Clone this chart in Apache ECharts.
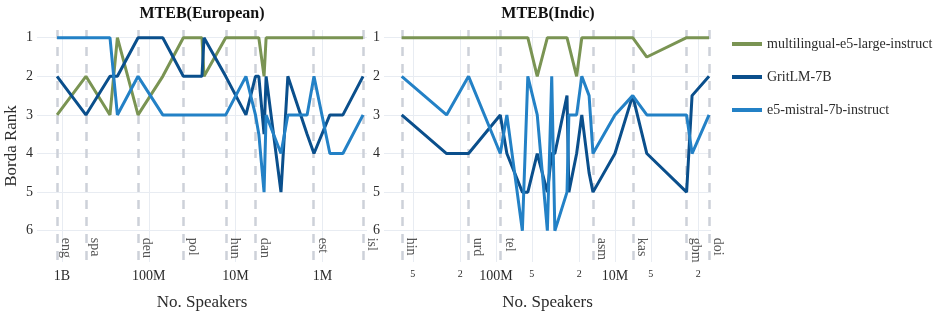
<!DOCTYPE html>
<html><head><meta charset="utf-8">
<script src="https://cdn.jsdelivr.net/npm/echarts@6/dist/echarts.min.js"></script>
<style>html,body{margin:0;padding:0;background:#fff}#c{width:946px;height:316px}</style>
</head><body><div id="c"></div>
<script>
const models = ['multilingual-e5-large-instruct', 'GritLM-7B', 'e5-mistral-7b-instruct'];
const colors = ['#7a9453', '#0a4f8c', '#2381c6'];

// MTEB(European) — languages (only some labelled), speakers in millions, Borda ranks
const euLangs      = ['eng','spa','','','deu','','pol','','','hun','','dan','','','','','','','est','','','isl'];
const euSpeakersM  = [1140, 530, 280, 230, 133, 69, 40, 24.4, 23.1, 13, 7.6, 5.9, 5.4, 4.7, 4.45, 3.0, 2.5, 1.5, 1.25, 0.82, 0.58, 0.34];
const euE5Large    = [3, 2, 3, 1, 3, 2, 1, 1, 2, 1, 1, 1, 1, 2, 1, 1, 1, 1, 1, 1, 1, 1];
const euGritLM     = [2, 3, 2, 2, 1, 1, 2, 2, 1, 2, 3, 2, 2, 3.5, 2, 5, 2, 3.5, 4, 3, 3, 2];
const euE5Mistral  = [1, 1, 1, 3, 2, 3, 3, 3, 3, 3, 2, 3, 3.5, 5, 3, 4, 3, 3, 2, 4, 4, 3];

// MTEB(Indic)
const inLangs      = ['hin','','urd','tel','','','','','','','','','','','','','asm','','kas','','gbm','','doi'];
const inSpeakersM  = [620, 260, 170, 92, 81, 60, 54, 45, 37, 34, 32, 25.3, 24.4, 21, 19, 16.5, 15.3, 10, 7.1, 5.4, 2.5, 2.25, 1.62];
const inE5Large    = [1, 1, 1, 1, 1, 1, 1, 2, 1, 1, 1, 1, 1, 2, 1, 1, 1, 1, 1, 1.5, 1, 1, 1];
const inGritLM     = [3, 4, 4, 3, 4, 5, 5, 4, 5, 4, 4, 2.5, 5, 4, 3, 4.5, 5, 4, 2.5, 4, 5, 2.5, 2];
const inE5Mistral  = [2, 3, 2, 4, 3, 6, 2, 3, 6, 2, 6, 5, 3, 3, 2, 2.5, 4, 3, 2.5, 3, 3, 4, 3];

// axis ticks
const euTicks = [1e9, 1e8, 1e7, 1e6];
const euTickLabels = ['1B', '100M', '10M', '1M'];
const inTicks = [5e8, 2e8, 1e8, 5e7, 2e7, 1e7, 5e6, 2e6];
const inTickLabels = ['5', '2', '100M', '5', '2', '10M', '5', '2'];
const rankTicks = [1, 2, 3, 4, 5, 6];

const FONT = 'Liberation Serif';
const TXT = '#2b2b2b';
const lg = v => Math.log10(v);

function xAxisCfg(grid, ticks, labels, min, max) {
  const vals = ticks.map(lg);
  return {
    gridIndex: grid, type: 'value', inverse: true, min: min, max: max,
    name: 'No. Speakers', nameLocation: 'middle', nameGap: 32,
    nameTextStyle: { fontFamily: FONT, fontSize: 17, color: TXT },
    axisLine: { show: false },
    axisTick: { show: false, customValues: vals },
    splitLine: { show: true, lineStyle: { color: '#e8ecf2', width: 1 } },
    axisLabel: {
      customValues: vals, margin: 7, fontFamily: FONT, fontSize: 14, color: TXT,
      formatter: v => {
        let i = 0, best = 1e9;
        vals.forEach((t, k) => { if (Math.abs(t - v) < best) { best = Math.abs(t - v); i = k; } });
        const s = labels[i];
        return s.length === 1 ? '{s|' + s + '}' : s;
      },
      rich: { s: { fontFamily: FONT, fontSize: 10, color: TXT } }
    }
  };
}
function yAxisCfg(grid, withName) {
  return {
    gridIndex: grid, type: 'value', inverse: true, min: 0.8, max: 6.81,
    name: withName ? 'Borda Rank' : '', nameLocation: 'middle', nameGap: 17,
    nameTextStyle: { fontFamily: FONT, fontSize: 17, color: TXT },
    axisLine: { show: false },
    axisTick: { show: false, customValues: rankTicks },
    splitLine: { show: true, lineStyle: { color: '#e8ecf2', width: 1 } },
    axisLabel: { customValues: rankTicks, margin: 4, fontFamily: FONT, fontSize: 14, color: TXT }
  };
}
function lineSeries(name, color, xs, ys, grid) {
  return {
    type: 'line', name: name, xAxisIndex: grid, yAxisIndex: grid,
    data: xs.map((s, i) => [lg(s * 1e6), ys[i]]),
    symbol: 'none', lineStyle: { color: color, width: 3 }, itemStyle: { color: color },
    z: 3, animation: false
  };
}
function langSeries(langs, speakers, grid) {
  const pts = [];
  langs.forEach((n, i) => { if (n) pts.push({ name: n, value: [lg(speakers[i] * 1e6), 6.18] }); });
  return {
    type: 'scatter', xAxisIndex: grid, yAxisIndex: grid, silent: true, z: 1,
    symbolSize: 0, data: pts, animation: false,
    label: {
      show: true, formatter: p => p.name, rotate: -90, position: 'inside',
      align: 'left', verticalAlign: 'bottom', padding: [0, 0, 2, 0],
      fontFamily: FONT, fontSize: 14, color: TXT
    },
    markLine: {
      silent: true, symbol: ['none', 'none'], z: 1, animation: false,
      label: { show: false },
      lineStyle: { type: [9, 8], color: '#cdd1d9', width: 2.5 },
      data: pts.map(p => ({ xAxis: p.value[0] }))
    }
  };
}

const chart = echarts.init(document.getElementById('c'), null, { renderer: 'canvas' });
chart.setOption({
  animation: false,
  backgroundColor: '#fff',
  grid: [
    { left: 37, top: 30, width: 330, height: 238 },
    { left: 384, top: 30, width: 327, height: 238 }
  ],
  graphic: [
    { type: 'text', x: 202, y: 14, style: { text: 'MTEB(European)', fontFamily: FONT, fontWeight: 'bold', fontSize: 16, fill: '#111', textAlign: 'center', textVerticalAlign: 'middle' } },
    { type: 'text', x: 548, y: 14, style: { text: 'MTEB(Indic)', fontFamily: FONT, fontWeight: 'bold', fontSize: 16, fill: '#111', textAlign: 'center', textVerticalAlign: 'middle' } }
  ],
  legend: {
    orient: 'vertical', left: 727, top: 31, itemWidth: 30, itemHeight: 4, itemGap: 17,
    icon: 'rect', data: models,
    textStyle: { fontFamily: FONT, fontSize: 14, color: TXT, lineHeight: 16 }
  },
  xAxis: [
    xAxisCfg(0, euTicks, euTickLabels, 5.486, 9.288),
    xAxisCfg(1, inTicks, inTickLabels, 6.193, 8.941)
  ],
  yAxis: [yAxisCfg(0, true), yAxisCfg(1, false)],
  series: [
    langSeries(euLangs, euSpeakersM, 0),
    langSeries(inLangs, inSpeakersM, 1),
    lineSeries(models[0], colors[0], euSpeakersM, euE5Large, 0),
    lineSeries(models[1], colors[1], euSpeakersM, euGritLM, 0),
    lineSeries(models[2], colors[2], euSpeakersM, euE5Mistral, 0),
    lineSeries(models[0], colors[0], inSpeakersM, inE5Large, 1),
    lineSeries(models[1], colors[1], inSpeakersM, inGritLM, 1),
    lineSeries(models[2], colors[2], inSpeakersM, inE5Mistral, 1)
  ]
});
</script></body></html>
